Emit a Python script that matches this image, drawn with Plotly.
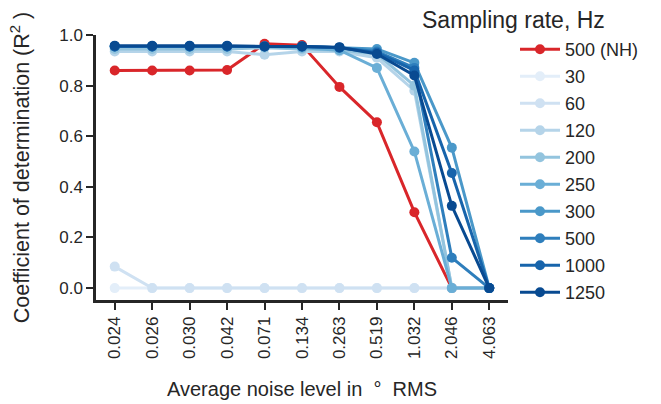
import plotly.graph_objects as go

noise_labels = ["0.024", "0.026", "0.030", "0.042", "0.071", "0.134",
                "0.263", "0.519", "1.032", "2.046", "4.063"]

series_names = ["500 (NH)", "30", "60", "120", "200", "250", "300", "500", "1000", "1250"]

r2_500nh = [0.860, 0.860, 0.860, 0.862, 0.965, 0.960, 0.795, 0.655, 0.300, 0.000, 0.000]
r2_30 = [0.000, 0.000, 0.000, 0.000, 0.000, 0.000, 0.000, 0.000, 0.000, 0.000, 0.000]
r2_60 = [0.085, 0.000, 0.000, 0.000, 0.000, 0.000, 0.000, 0.000, 0.000, 0.000, 0.000]
r2_120 = [0.935, 0.935, 0.935, 0.935, 0.922, 0.935, 0.935, 0.910, 0.780, 0.000, 0.000]
r2_200 = [0.945, 0.945, 0.945, 0.945, 0.950, 0.945, 0.940, 0.925, 0.800, 0.000, 0.000]
r2_250 = [0.955, 0.955, 0.955, 0.955, 0.955, 0.950, 0.940, 0.870, 0.540, 0.000, 0.000]
r2_300 = [0.955, 0.955, 0.955, 0.955, 0.955, 0.955, 0.950, 0.945, 0.890, 0.555, 0.000]
r2_500 = [0.955, 0.955, 0.955, 0.955, 0.955, 0.955, 0.950, 0.935, 0.870, 0.120, 0.000]
r2_1000 = [0.955, 0.955, 0.955, 0.955, 0.955, 0.955, 0.950, 0.930, 0.860, 0.455, 0.000]
r2_1250 = [0.958, 0.958, 0.958, 0.958, 0.955, 0.955, 0.952, 0.925, 0.840, 0.325, 0.000]

values = [r2_500nh, r2_30, r2_60, r2_120, r2_200, r2_250, r2_300, r2_500, r2_1000, r2_1250]
colors = ["#d9262a", "#e3eef9", "#cfe1f2", "#b5d4e9", "#93c4de", "#6aaed6",
          "#4a98c9", "#2e7ebc", "#1764ab", "#084a91"]

fig = go.Figure()
for i, (name, vals, col) in enumerate(zip(series_names, values, colors)):
    fig.add_trace(go.Scatter(
        x=list(range(len(noise_labels))), y=vals, name=name,
        mode="lines+markers",
        line=dict(color=col, width=3),
        marker=dict(color=col, size=10),
        legendgroup=f"g{i}",
        legend="legend" if i < 5 else "legend2",
        cliponaxis=False,
    ))

axis_col = "#262626"
plot_l, plot_t, plot_w, plot_h = 96, 35, 412, 265
row_h = 27.0
leg_x = (515 - plot_l) / plot_w
leg_top1 = 31
leg_top2 = leg_top1 + 5 * row_h
leg_common = dict(x=leg_x, xanchor="left", yanchor="top",
                  font=dict(size=18), tracegroupgap=0.6, itemwidth=40,
                  bgcolor="rgba(0,0,0,0)")

fig.update_layout(
    width=661, height=404,
    margin=dict(l=plot_l, r=661 - plot_l - plot_w, t=plot_t, b=404 - plot_t - plot_h,
                autoexpand=False),
    plot_bgcolor="white", paper_bgcolor="white",
    font=dict(family="Liberation Sans, Arial, sans-serif", color=axis_col, size=17),
    showlegend=True,
    legend=dict(y=(plot_t + plot_h - leg_top1) / plot_h, **leg_common),
    legend2=dict(y=(plot_t + plot_h - leg_top2) / plot_h, **leg_common),
    xaxis=dict(
        tickmode="array", tickvals=list(range(len(noise_labels))), ticktext=noise_labels,
        range=[-0.5, 10.5], tickangle=-90,
        showline=True, linecolor=axis_col, linewidth=2.5,
        ticks="outside", ticklen=7, tickwidth=2, tickcolor=axis_col,
        showgrid=False, zeroline=False,
        title=dict(text="Average noise level in  °  RMS", font=dict(size=20), standoff=24),
        tickfont=dict(size=17),
    ),
    yaxis=dict(
        range=[-0.047, 1.0],
        tickvals=[0.0, 0.2, 0.4, 0.6, 0.8, 1.0],
        ticktext=["0.0", "0.2", "0.4", "0.6", "0.8", "1.0"],
        showline=True, linecolor=axis_col, linewidth=2.5,
        ticks="outside", ticklen=7, tickwidth=2, tickcolor=axis_col,
        showgrid=False, zeroline=False,
        title=dict(text="Coefficient of determination (R<sup>2</sup> )", font=dict(size=21.5),
                   standoff=24),
        tickfont=dict(size=17),
    ),
    annotations=[dict(text="Sampling rate, Hz", xref="paper", yref="paper",
                      x=(420 - plot_l) / plot_w, y=1.0 + 15 / plot_h,
                      xanchor="left", yanchor="middle",
                      showarrow=False, font=dict(size=23, color=axis_col))],
)

fig.write_html("out.html", config={"displayModeBar": False},
               post_script="document.body.style.margin='0px';")
